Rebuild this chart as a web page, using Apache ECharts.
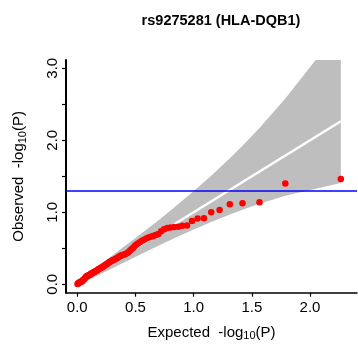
<!DOCTYPE html>
<html>
<head>
<meta charset="utf-8">
<script src="https://cdn.jsdelivr.net/npm/echarts@6/dist/echarts.min.js"></script>
<style>
html,body{margin:0;padding:0;background:#fff;}
#chart{width:358px;height:348px;}
</style>
</head>
<body>
<div id="chart"></div>
<script>
// Expected -log10(P) for each ranked SNP (largest first)
var expected = [2.265,1.788,1.566,1.420,1.311,1.223,1.151,1.089,1.034,0.986,
  0.943,0.903,0.867,0.833,0.802,0.773,0.746,0.721,0.697,0.674,
  0.652,0.631,0.612,0.593,0.575,0.557,0.541,0.524,0.509,0.494,
  0.479,0.465,0.452,0.439,0.426,0.414,0.402,0.390,0.378,0.367,
  0.356,0.346,0.335,0.325,0.315,0.306,0.296,0.287,0.278,0.269,
  0.260,0.252,0.244,0.235,0.227,0.220,0.212,0.204,0.197,0.189,
  0.182,0.175,0.168,0.161,0.154,0.148,0.141,0.134,0.128,0.122,
  0.116,0.109,0.103,0.098,0.092,0.086,0.080,0.074,0.069,0.063,
  0.058,0.053,0.047,0.042,0.037,0.032,0.027,0.022,0.017,0.012,
  0.007,0.002];
// Observed -log10(P)
var observed = [1.462,1.400,1.139,1.125,1.110,1.030,1.000,0.918,0.914,0.880,
  0.818,0.814,0.800,0.795,0.790,0.782,0.765,0.735,0.700,0.685,
  0.672,0.660,0.648,0.635,0.620,0.605,0.588,0.570,0.552,0.530,
  0.505,0.485,0.465,0.446,0.432,0.420,0.410,0.405,0.400,0.392,
  0.380,0.368,0.357,0.348,0.340,0.333,0.326,0.318,0.310,0.300,
  0.290,0.279,0.270,0.261,0.252,0.244,0.236,0.230,0.222,0.215,
  0.208,0.200,0.193,0.186,0.180,0.172,0.166,0.160,0.155,0.148,
  0.142,0.137,0.130,0.124,0.118,0.115,0.110,0.102,0.090,0.078,
  0.070,0.062,0.055,0.047,0.040,0.036,0.030,0.027,0.022,0.018,
  0.012,0.005];
// 95% confidence band (expected, upper, lower)
var bandX     = [2.265,1.788,1.566,1.420,1.311,1.151,0.986,0.833,0.674,0.494,0.315,0.189,0.092,0.037,0.002];
var bandUpper = [3.560,2.580,2.172,1.925,1.749,1.5075,1.273,1.0667,0.8597,0.6345,0.4162,0.2629,0.1422,0.0707,0.0174];
var bandLower = [1.405,1.2285,1.1175,1.0366,0.9695,0.8654,0.751,0.6395,0.5179,0.3764,0.2329,0.1316,0.0557,0.0169,0.0001];
var thresholdP = 0.05;
var xTicks = [0, 0.5, 1.0, 1.5, 2.0];
var yTicks = [0, 0.5, 1.0, 1.5, 2.0, 2.5, 3.0];
var yLabels = [0, 1.0, 2.0, 3.0];
var titleText = 'rs9275281 (HLA-DQB1)';

var FONT = '"Liberation Sans", Arial, Helvetica, sans-serif';
var chart = echarts.init(document.getElementById('chart'), null, {renderer: 'canvas'});
var points = expected.map(function (e, k) { return [e, observed[k]]; });
var maxE = Math.max.apply(null, expected);

var nameRich = {
  n: {fontSize: 15, fontFamily: FONT, color: '#000', lineHeight: 18, verticalAlign: 'middle'},
  s: {fontSize: 11, fontFamily: FONT, color: '#000', lineHeight: 12, verticalAlign: 'bottom'}
};

chart.setOption({
  animation: false,
  backgroundColor: '#fff',
  title: {
    text: titleText,
    left: 216, top: 8, textAlign: 'center',
    textStyle: {fontFamily: FONT, fontWeight: 'bold', fontSize: 14.5, color: '#000'}
  },
  grid: {left: 66, right: 1, top: 60, bottom: 55.3, containLabel: false, outerBoundsMode: 'none'},
  xAxis: {
    type: 'value', min: -0.097, max: 2.404,
    splitLine: {show: false},
    axisLine: {onZero: false, lineStyle: {color: '#000', width: 1.5}},
    axisTick: {customValues: xTicks, length: 4, lineStyle: {color: '#000', width: 1.2}},
    axisLabel: {customValues: xTicks, margin: 8, fontSize: 15, fontFamily: FONT, color: '#000',
      formatter: function (v) { return v.toFixed(1); }},
    name: '{n|Expected  -log}{s|10}{n|(P)}',
    nameLocation: 'middle', nameGap: 31,
    nameTextStyle: {rich: nameRich}
  },
  yAxis: {
    type: 'value', min: -0.117, max: 3.115,
    splitLine: {show: false},
    axisLine: {onZero: false, lineStyle: {color: '#000', width: 2}},
    axisTick: {customValues: yTicks, length: 4, lineStyle: {color: '#000', width: 1.2}},
    axisLabel: {customValues: yLabels, margin: 6, rotate: 90, fontSize: 15, fontFamily: FONT, color: '#000',
      formatter: function (v) { return v.toFixed(1); }},
    name: '{n|Observed  -log}{s|10}{n|(P)}',
    nameLocation: 'middle', nameGap: 38, nameRotate: 90,
    nameTextStyle: {rich: nameRich}
  },
  series: [
    {
      type: 'custom', clip: true, silent: true, z: 1,
      data: [[0, 0]],
      renderItem: function (params, api) {
        var pts = [];
        for (var k = 0; k < bandX.length; k++) pts.push(api.coord([bandX[k], bandUpper[k]]));
        for (var j = bandX.length - 1; j >= 0; j--) pts.push(api.coord([bandX[j], bandLower[j]]));
        return {type: 'polygon', shape: {points: pts}, style: {fill: '#BEBEBE', stroke: null}};
      }
    },
    {
      type: 'line', silent: true, z: 2, symbol: 'none',
      data: [[0, 0], [maxE, maxE]],
      lineStyle: {color: '#fff', width: 2.5}
    },
    {
      type: 'scatter', z: 3, symbol: 'circle', symbolSize: 6.5,
      data: points,
      itemStyle: {color: '#FF0000', opacity: 1},
      markLine: {
        silent: true, symbol: 'none', label: {show: false},
        lineStyle: {color: '#0000FF', width: 1.6, type: 'solid', opacity: 1},
        data: [{yAxis: -Math.log10(thresholdP)}]
      }
    }
  ]
});
</script>
</body>
</html>
